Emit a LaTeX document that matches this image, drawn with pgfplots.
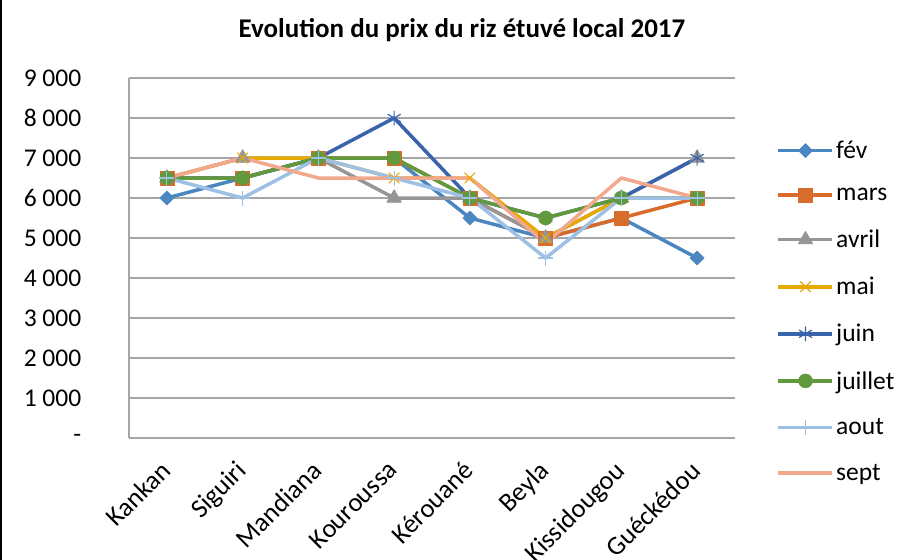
\documentclass[border=0pt]{standalone}
\usepackage{pgfplots}
\pgfplotsset{compat=1.18}
\usepackage{fontspec}
\setmainfont{Carlito}
\definecolor{cfev}{RGB}{74,134,192}
\definecolor{cmars}{RGB}{216,108,44}
\definecolor{cavril}{RGB}{150,150,150}
\definecolor{cmai}{RGB}{230,170,0}
\definecolor{cjuin}{RGB}{58,99,174}
\definecolor{cjuil}{RGB}{96,154,60}
\definecolor{caout}{RGB}{157,192,229}
\definecolor{csept}{RGB}{242,168,140}
\definecolor{cgrid}{RGB}{166,166,166}
\begin{document}
\begin{tikzpicture}[x=1pt,y=1pt]
\useasboundingbox (0,0) rectangle (898,560);
\fill[white] (0,0) rectangle (898,560);
\draw[black, line width=3pt] (0,0) -- (0,560);
\node[font=\fontsize{27}{32}\selectfont\bfseries] at (462,530) {Evolution du prix du riz étuvé local 2017};
\begin{axis}[
  at={(129pt,122pt)}, anchor=south west,
  scale only axis, width=606pt, height=360pt,
  xmin=-0.5, xmax=7.5, ymin=0, ymax=9000,
  xtick={0,...,7},
  xticklabels={Kankan,Siguiri,Mandiana,Kouroussa,Kérouané,Beyla,Kissidougou,Guéckédou},
  ytick={0,1000,...,9000},
  yticklabels={-\hspace{11pt},1 000,2 000,3 000,4 000,5 000,6 000,7 000,8 000,9 000},
  ymajorgrids, major grid style={cgrid, line width=1.5pt},
  axis x line*=bottom, axis y line*=left,
  axis line style={cgrid, line width=1.5pt, -},
  major tick length=0pt,
  tick label style={font=\fontsize{25.5}{30}\selectfont},
  yticklabel style={anchor=east, inner sep=0pt, xshift=-46pt},
  xticklabel style={rotate=45, anchor=north east, inner sep=0pt, yshift=-8pt, xshift=-19pt, font=\fontsize{26.5}{30}\selectfont},
  line width=3.5pt,
  every axis plot/.append style={line join=round},
  legend style={draw=none, fill=none, at={(1.066,0.835)}, anchor=north west,
    font=\fontsize{25.5}{30}\selectfont, row sep=24pt, inner sep=0pt},
  legend cell align=left,
  legend image code/.code={\draw[mark repeat=2,mark phase=2] plot coordinates {(0pt,0pt) (27pt,0pt) (54pt,0pt)};},
  clip=false,
]
\addplot[cfev, mark=square*, mark size=5, mark options={rotate=45, line width=0.5pt}] coordinates {(0,6000)(1,6500)(2,7000)(3,7000)(4,5500)(5,5000)(6,5500)(7,4500)};
\addlegendentry{fév}
\addplot[cmars, mark=square*, mark size=7, mark options={line width=0.5pt}] coordinates {(0,6500)(1,6500)(2,7000)(3,7000)(4,6000)(5,5000)(6,5500)(7,6000)};
\addlegendentry{mars}
\addplot[cavril, mark=triangle*, mark size=8.5, mark options={line width=0.5pt}] coordinates {(0,6500)(1,7000)(2,7000)(3,6000)(4,6000)(5,5000)(6,6000)(7,7000)};
\addlegendentry{avril}
\addplot[cmai, mark=x, mark size=7.5, mark options={line width=1.2pt}] coordinates {(0,6500)(1,7000)(2,7000)(3,6500)(4,6500)(5,5000)(6,6000)(7,6000)};
\addlegendentry{mai}
\addplot[cjuin, mark=asterisk, mark size=7.5, mark options={line width=1.2pt}] coordinates {(0,6500)(1,6500)(2,7000)(3,8000)(4,6000)(5,5500)(6,6000)(7,7000)};
\addlegendentry{juin}
\addplot[cjuil, mark=*, mark size=7, mark options={line width=0.5pt}] coordinates {(0,6500)(1,6500)(2,7000)(3,7000)(4,6000)(5,5500)(6,6000)(7,6000)};
\addlegendentry{juillet}
\addplot[caout, mark=+, mark size=7.5, mark options={line width=1.2pt}] coordinates {(0,6500)(1,6000)(2,7000)(3,6500)(4,6000)(5,4500)(6,6000)(7,6000)};
\addlegendentry{aout}
\addplot[csept] coordinates {(0,6500)(1,7000)(2,6500)(3,6500)(4,6500)(5,4870)(6,6500)(7,6000)};
\addlegendentry{sept}
\end{axis}
\end{tikzpicture}
\end{document}
